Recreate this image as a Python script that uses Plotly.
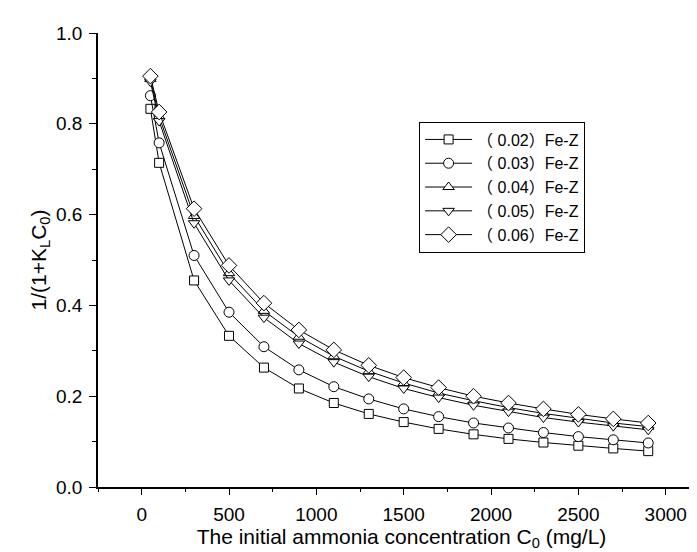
import plotly.graph_objects as go

# Initial ammonia concentration C0 (mg/L)
c0 = [50, 100, 300, 500, 700, 900, 1100, 1300, 1500, 1700, 1900, 2100, 2300, 2500, 2700, 2900]

# 1/(1+KL*C0)
rl_002 = [0.833, 0.714, 0.455, 0.333, 0.263, 0.217, 0.185, 0.161, 0.143, 0.128, 0.116, 0.106, 0.098, 0.091, 0.085, 0.079]
rl_003 = [0.862, 0.758, 0.510, 0.385, 0.309, 0.258, 0.221, 0.194, 0.172, 0.155, 0.141, 0.130, 0.120, 0.111, 0.104, 0.097]
rl_004 = [0.899, 0.816, 0.597, 0.471, 0.388, 0.331, 0.288, 0.255, 0.229, 0.207, 0.190, 0.175, 0.162, 0.151, 0.141, 0.133]
rl_005 = [0.893, 0.806, 0.581, 0.455, 0.373, 0.316, 0.275, 0.243, 0.217, 0.197, 0.180, 0.166, 0.153, 0.143, 0.134, 0.126]
rl_006 = [0.905, 0.826, 0.613, 0.488, 0.405, 0.346, 0.302, 0.268, 0.241, 0.219, 0.200, 0.185, 0.172, 0.160, 0.150, 0.141]

series_names = ["（ 0.02）Fe-Z", "（ 0.03）Fe-Z", "（ 0.04）Fe-Z", "（ 0.05）Fe-Z", "（ 0.06）Fe-Z"]
series_values = [rl_002, rl_003, rl_004, rl_005, rl_006]
symbols = ["square", "circle", "triangle-up", "triangle-down", "diamond"]
sizes = [9, 10, 10, 10, 12]

FONT = "Liberation Sans, Arial, Noto Sans CJK SC, sans-serif"

fig = go.Figure()
for name, vals, sym, sz in zip(series_names, series_values, symbols, sizes):
    fig.add_trace(go.Scatter(
        x=c0, y=vals, name=name, mode="lines+markers",
        line=dict(color="black", width=1),
        marker=dict(symbol=sym, size=sz, color="white",
                    line=dict(color="black", width=1)),
    ))

fig.update_layout(
    width=697, height=552,
    margin=dict(l=90, r=0, t=25, b=73),
    paper_bgcolor="white", plot_bgcolor="white",
    font=dict(family=FONT, size=16, color="black"),
    showlegend=True,
    legend=dict(
        x=0.529, y=0.805, xanchor="left", yanchor="top",
        bordercolor="black", borderwidth=1, bgcolor="white",
        font=dict(family=FONT, size=16, color="black"),
        itemwidth=47, tracegroupgap=0,
    ),
)

fig.update_xaxes(
    range=[-250, 3225], tick0=0, dtick=500,
    showline=True, linecolor="black", linewidth=1.5,
    ticks="outside", ticklen=6, tickwidth=1.2, tickcolor="black",
    minor=dict(dtick=250, tick0=0, ticks="outside", ticklen=3, tickwidth=1.2, tickcolor="black"),
    showgrid=False, zeroline=False,
    tickfont=dict(family=FONT, size=19), ticklabelstandoff=3,
    title=dict(text="The initial ammonia concentration C<sub>0</sub> (mg/L)",
               font=dict(family=FONT, size=21), standoff=1),
)
fig.update_yaxes(
    range=[0, 1.0], tick0=0, dtick=0.2, tickformat=".1f",
    showline=True, linecolor="black", linewidth=1.5,
    ticks="outside", ticklen=7, tickwidth=1.2, tickcolor="black",
    minor=dict(dtick=0.1, tick0=0, ticks="outside", ticklen=4, tickwidth=1.2, tickcolor="black"),
    showgrid=False, zeroline=False,
    tickfont=dict(family=FONT, size=19), ticklabelstandoff=3,
    title=dict(text="1/(1+K<sub>L</sub>C<sub>0</sub>)",
               font=dict(family=FONT, size=21), standoff=4),
)

fig.write_html("out.html")
